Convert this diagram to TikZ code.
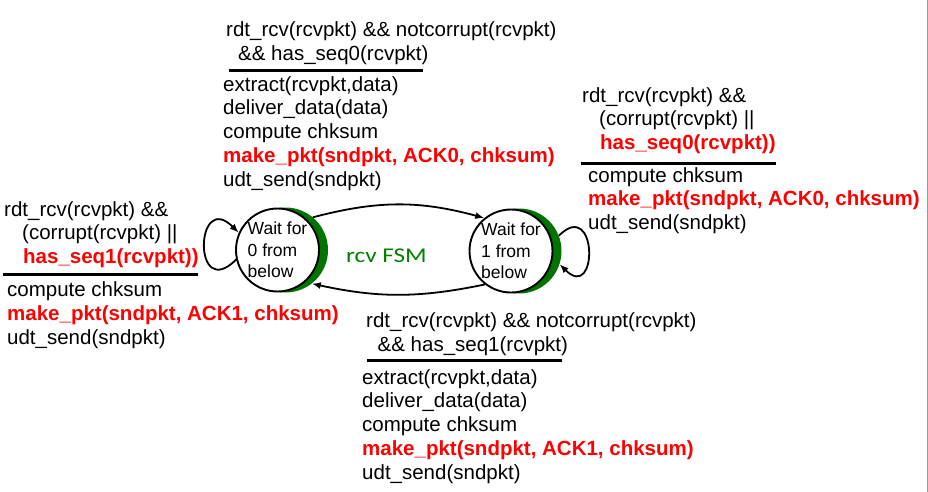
\documentclass[tikz,border=0pt]{standalone}
\usepackage{fontspec}
\usepackage{graphicx}
\usepackage{xcolor}
\usepackage{tikz}
\usetikzlibrary{arrows.meta}
\setmainfont{Liberation Sans}
\newfontfamily\fsmfont{Carlito}
\definecolor{FsmGreen}{RGB}{0,128,0}
\definecolor{GlowGreen}{RGB}{0,115,0}
\newcommand{\hot}[1]{\textcolor{red}{\textbf{#1}}}
\newcommand{\txtfont}{\fontsize{20.5}{23.7}\selectfont}

\begin{document}
\begin{tikzpicture}[
  x=1pt,y=1pt,
  >={Latex[length=9pt,width=7pt]},
  txt/.style={anchor=base west,inner sep=0pt,align=left,font=\txtfont},
  rule/.style={line width=3pt},
  glow/.style={circle,fill=GlowGreen,minimum size=85pt,inner sep=0pt},
  state/.style={circle,draw,line width=1.9pt,fill=white,minimum size=83pt,inner sep=0pt,
    align=left,font=\fontsize{17.5}{21.5}\selectfont},
  arc/.style={->,line width=1.8pt}
]
\useasboundingbox (0,0) rectangle (928,-492);
\draw[gray!80,line width=0.8pt] (927.4,0) -- (927.4,-492);
% states
\node[glow] (g0) at (285.5,-250) {};
\node[state] (s0) at (277.5,-250) {Wait for\\0 from\\below};
\node[glow] (g1) at (519,-251) {};
\node[state] (s1) at (511,-251) {Wait for\\1 from\\below};
\node[anchor=base west,inner sep=0pt,text=FsmGreen,font=\fsmfont\fontsize{21}{22}\selectfont]
  (fsm) at (346,-262) {\scalebox{1.2}[1]{rcv FSM}};
% transitions
\draw[arc] (g0.50) to[bend left=15] (s1.129);
\draw[arc] (s1.232) to[bend left=12] (g0.308);
\draw[arc] (s0.193) .. controls +(225:62) and +(135:62) .. (s0.156);
\draw[arc] (g1.21) .. controls +(45:55) and +(-45:55) .. (g1.-18);
% 0 -> 1 (base = last line)
\node[txt] (c01) at (226,-60.5) {rdt\_rcv(rcvpkt) \&\& notcorrupt(rcvpkt)\\\hspace*{12pt}\&\& has\_seq0(rcvpkt)};
\draw[rule] (229,-71) -- (423,-71);
\node[txt] (a01) at (223,-186) {extract(rcvpkt,data)\\deliver\_data(data)\\compute chksum\\
  \hot{make\_pkt(sndpkt, ACK0, chksum)}\\udt\_send(sndpkt)};
% 1 -> 1
\node[txt] (c11) at (582,-149.5) {rdt\_rcv(rcvpkt) \&\&\\\hspace*{17pt}(corrupt(rcvpkt) ||\\
  \hspace*{18pt}\hot{has\_seq0(rcvpkt))}};
\draw[rule] (581,-163) -- (776,-163);
\node[txt] (a11) at (588,-229.5) {compute chksum\\\hot{make\_pkt(sndpkt, ACK0, chksum)}\\udt\_send(sndpkt)};
% 0 -> 0
\node[txt] (c00) at (4,-263.5) {rdt\_rcv(rcvpkt) \&\&\\\hspace*{18pt}(corrupt(rcvpkt) ||\\
  \hspace*{19pt}\hot{has\_seq1(rcvpkt))}};
\draw[rule] (3,-274) -- (198,-274);
\node[txt] (a00) at (7,-344) {compute chksum\\\hot{make\_pkt(sndpkt, ACK1, chksum)}\\udt\_send(sndpkt)};
% 1 -> 0
\node[txt] (c10) at (366,-351.5) {rdt\_rcv(rcvpkt) \&\& notcorrupt(rcvpkt)\\\hspace*{11.5pt}\&\& has\_seq1(rcvpkt)};
\draw[rule] (367,-360) -- (562,-360);
\node[txt] (a10) at (362,-479) {extract(rcvpkt,data)\\deliver\_data(data)\\compute chksum\\
  \hot{make\_pkt(sndpkt, ACK1, chksum)}\\udt\_send(sndpkt)};
\end{tikzpicture}
\end{document}
